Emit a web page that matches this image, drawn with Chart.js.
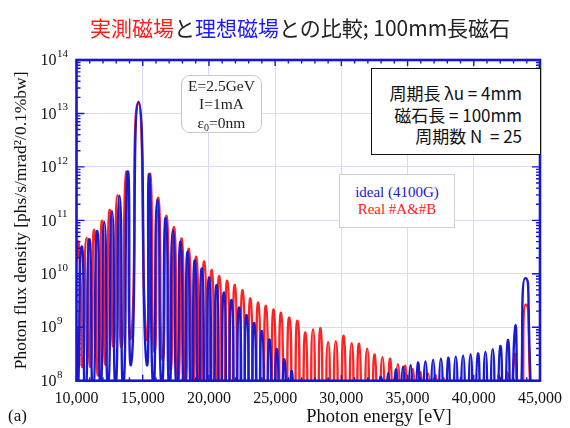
<!DOCTYPE html>
<html lang="ja">
<head>
<meta charset="UTF-8">
<title>実測磁場と理想磁場との比較</title>
<style>
  body { margin: 0; background: #fff; }
  #wrap { position: relative; width: 570px; height: 428px; overflow: hidden; }
  #chart { position: absolute; left: 0; top: 0; }
  .ov { position: absolute; white-space: nowrap; }
  #title { left: 0; top: 13px; width: 600px; text-align: center; font: 21px/28px "Noto Sans CJK JP", sans-serif; color: #222; }
  .serif { font-family: "Liberation Serif", "Times New Roman", serif; }
  #beam { left: 181px; top: 75px; width: 81px; height: 58px; border: 1px solid #c8c8c8; border-radius: 9px; background: #fff;
          text-align: center; font-size: 15.5px; line-height: 18.3px; box-sizing: border-box; padding-top: 1px; color: #222; }
  #beam sub { font-size: 10px; vertical-align: -3px; line-height: 0; }
  #und { left: 371px; top: 68px; width: 170px; height: 87px; border: 1.5px solid #111; background: #fff; box-sizing: border-box;
         text-align: right; padding: 13px 18px 0 0; font: 17px/21.7px "Noto Sans CJK JP", sans-serif; color: #111; }
  #leg { left: 339px; top: 174px; width: 116px; height: 54px; border: 1px solid #cfcfcf; background: #fff; box-sizing: border-box;
         text-align: center; padding-top: 9px; font-size: 15px; line-height: 17px; }
  #xtitle { left: 279px; top: 405px; width: 200px; text-align: center; font-size: 18.5px; line-height: 22px; color: #111; }
  #panel { left: 8px; top: 406px; font-size: 17px; line-height: 20px; color: #111; }
</style>
</head>
<body>
<div id="wrap">
  <canvas id="chart" width="570" height="428"></canvas>
  <div id="title" class="ov"><span style="color:#ff1a1a">実測磁場</span>と<span style="color:#1a1aff">理想磁場</span>との比較; 100mm長磁石</div>
  <div id="beam" class="ov serif">E=2.5GeV<br>I=1mA<br>ε<sub>0</sub>=0nm</div>
  <div id="und" class="ov">周期長 λu = 4mm<br>磁石長 = 100mm<br>周期数 N&nbsp; = 25</div>
  <div id="leg" class="ov serif"><span style="color:#2020c8">ideal (4100G)</span><br><span style="color:#ff2020">Real #A&amp;#B</span></div>
  <div id="xtitle" class="ov serif">Photon energy [eV]</div>
  <div id="panel" class="ov serif">(a)</div>
</div>
<script src="https://cdn.jsdelivr.net/npm/chart.js"></script>
<script>
// photon energy [eV] and log10(flux), peaks and minima in turn
const blueE = [10000, 10080, 10390, 10680, 10960, 11260, 11550, 11830, 12100, 12390, 12680, 12960, 13250, 13540, 13870, 14140,
  14690, 15290, 15490, 15800, 16110, 16430, 16740, 17010, 17280, 17570, 17860, 18130, 18400, 18670, 18940, 19200,
  19470, 19750, 20020, 20300, 20590, 20860, 21140, 21420, 21710, 22000, 22290, 22570, 22850, 23140, 23420, 23710,
  24000, 24290, 24580, 24850, 25130, 25410, 25700, 25980, 26260, 26540, 26820, 27100, 32400, 32960, 33250, 33540,
  33820, 34110, 34380, 34660, 34950, 35230, 35500, 35780, 36060, 36350, 36640, 36930, 37220, 37520, 37800, 38070,
  38350, 38640, 38910, 39190, 39480, 39760, 40030, 40310, 40600, 40880, 41150, 41430, 41710, 42000, 42290, 42570,
  42850, 43120, 43430, 43880, 44380, 44700, 45000];
const blueExp = [9.0, 7.6, 10.51, 7.7, 10.65, 7.8, 10.80, 7.9, 10.97, 7.9, 11.17, 7.9, 11.46, 7.9, 11.91, 8.33,
  13.22, 8.33, 11.86, 7.9, 11.38, 7.9, 11.04, 7.8, 10.82, 7.8, 10.60, 7.7, 10.41, 7.6, 10.25, 7.5,
  10.10, 7.4, 9.93, 7.3, 9.79, 7.2, 9.65, 7.1, 9.51, 7.0, 9.37, 6.8, 9.23, 6.7, 9.08, 6.5,
  8.93, 6.4, 8.77, 6.2, 8.59, 6.0, 8.40, 5.8, 8.18, 5.6, 7.9, 5.5, 5.5, 8.07, 5.6, 8.14,
  5.6, 8.21, 5.7, 8.26, 5.7, 8.29, 5.7, 8.34, 5.8, 8.36, 5.8, 8.39, 5.8, 8.41, 5.8, 8.43,
  5.9, 8.45, 5.9, 8.47, 5.9, 8.49, 5.9, 8.51, 6.0, 8.54, 6.0, 8.59, 6.0, 8.65, 6.1, 8.76,
  6.2, 8.99, 7.4, 9.92, 7.4, 5.5, 5.5];

const redE = [10000, 10180, 10480, 10760, 11060, 11350, 11640, 11920, 12210, 12500, 12800, 13100, 13410, 13770, 14120, 14660,
  15300, 15560, 15870, 16180, 16490, 16800, 17090, 17370, 17660, 17950, 18220, 18490, 18770, 19050, 19350, 19650,
  19940, 20220, 20500, 20790, 21090, 21390, 21680, 21960, 22250, 22550, 22850, 23140, 23430, 23730, 24020, 24310,
  24600, 24890, 25170, 25450, 25760, 26070, 26380, 26690, 26990, 27290, 27580, 27860, 28150, 28430, 28720, 29000,
  29290, 29580, 29880, 30180, 30480, 30780, 31060, 31340, 31650, 31950, 32230, 32520, 32810, 33100, 33400, 33690,
  33980, 34270, 34550, 34830, 35120, 35400, 35690, 35980, 36270, 36560, 36850, 37130, 37420, 37700, 38000, 41500,
  41870, 42180, 42500, 42790, 43070, 43500, 43920, 44400, 44700, 45000];
const redExp = [10.25, 10.53, 8.26, 10.67, 8.26, 10.82, 8.1, 10.99, 8.3, 11.19, 8.64, 11.47, 8.64, 11.91, 8.82, 13.20,
  8.8, 11.87, 8.55, 11.42, 8.4, 11.08, 8.2, 10.87, 8.0, 10.66, 7.9, 10.47, 7.8, 10.32, 7.7, 10.23,
  7.6, 10.07, 7.5, 9.96, 7.4, 9.87, 7.3, 9.79, 7.2, 9.69, 7.1, 9.54, 7.0, 9.46, 6.9, 9.40,
  6.8, 9.33, 6.7, 9.27, 6.6, 9.18, 6.5, 9.12, 6.4, 8.90, 6.3, 8.96, 6.3, 8.98, 6.2, 8.72,
  6.2, 8.74, 6.2, 8.84, 6.1, 8.70, 6.1, 8.69, 6.0, 8.60, 6.0, 8.49, 5.9, 8.44, 5.9, 8.41,
  5.8, 8.31, 5.8, 8.28, 5.7, 8.22, 5.7, 8.16, 5.6, 8.13, 5.6, 8.10, 5.5, 8.05, 5.5, 5.5,
  8.10, 5.6, 8.15, 5.8, 8.46, 7.0, 9.42, 7.0, 5.5, 5.5];

const xTicks = [10000, 15000, 20000, 25000, 30000, 35000, 40000, 45000];
const yDecades = [8, 9, 10, 11, 12, 13, 14];

const axisBlue = '#1616d6';
const gridColor = '#dadaf6';
const serif = '"Liberation Serif", "Times New Roman", serif';

function toPoints(es, ps) {
    return es.map((e, i) => ({ x: e, y: Math.pow(10, ps[i]) }));
}
function isDecade(v) {
    const e = Math.log10(v);
    return Math.abs(e - Math.round(e)) < 1e-6;
}

// 内向きの目盛り、枠線、10のべき乗ラベル
const framePlugin = {
    id: 'frame',
    afterDatasetsDraw(chart) {
        const { ctx, chartArea: a, scales: { x, y } } = chart;
        ctx.save();
        ctx.strokeStyle = axisBlue;
        ctx.lineWidth = 1.4;
        ctx.beginPath();
        for (let v = xTicks[0]; v <= xTicks[xTicks.length - 1]; v += 1000) {
            const px = x.getPixelForValue(v);
            const len = xTicks.includes(v) ? 6 : 3.5;
            ctx.moveTo(px, a.bottom); ctx.lineTo(px, a.bottom - len);
            ctx.moveTo(px, a.top); ctx.lineTo(px, a.top + len);
        }
        yDecades.forEach(d => {
            for (let m = 1; m <= 9; m++) {
                const v = m * Math.pow(10, d);
                if (v > y.max) break;
                const py = y.getPixelForValue(v);
                const len = m === 1 ? 8 : 4;
                ctx.moveTo(a.left, py); ctx.lineTo(a.left + len, py);
                ctx.moveTo(a.right, py); ctx.lineTo(a.right - len, py);
            }
        });
        ctx.stroke();
        ctx.lineWidth = 2.6;
        ctx.strokeRect(a.left, a.top, a.right - a.left, a.bottom - a.top);

        ctx.fillStyle = '#111';
        ctx.textBaseline = 'middle';
        yDecades.forEach(d => {
            const py = y.getPixelForValue(Math.pow(10, d));
            ctx.font = '16px ' + serif;
            ctx.textAlign = 'right';
            ctx.fillText('10', a.left - 20, py + 1);
            ctx.font = '11px ' + serif;
            ctx.textAlign = 'left';
            ctx.fillText(String(d), a.left - 19.5, py - 6);
        });
        ctx.restore();
    }
};

new Chart(document.getElementById('chart'), {
    type: 'line',
    data: {
        datasets: [
            { label: 'ideal (4100G)', data: toPoints(blueE, blueExp), borderColor: '#1a1ad2', borderWidth: 2.4 },
            { label: 'Real #A&#B', data: toPoints(redE, redExp), borderColor: '#ff2222', borderWidth: 2.4 }
        ]
    },
    options: {
        responsive: false,
        animation: false,
        devicePixelRatio: 1,
        layout: { padding: { left: 0, right: 25, top: 60, bottom: 0 } },
        elements: {
            point: { radius: 0 },
            line: { tension: 0.9, capBezierPoints: false, borderJoinStyle: 'round' }
        },
        plugins: { legend: { display: false }, tooltip: { enabled: false } },
        scales: {
            x: {
                type: 'linear', min: 10000, max: 45000,
                afterFit: s => { s.height = 47.3; },
                border: { display: false },
                grid: { color: gridColor, drawTicks: false },
                ticks: {
                    stepSize: 5000, maxRotation: 0, padding: 8, color: '#111',
                    font: { family: serif, size: 16 },
                    callback: v => v.toLocaleString('en-US')
                }
            },
            y: {
                type: 'logarithmic', min: 1e8, max: 1e14,
                afterFit: s => { s.width = 76.5; },
                border: { display: false },
                grid: { color: c => (c.tick && isDecade(c.tick.value)) ? gridColor : 'rgba(0,0,0,0)', drawTicks: false },
                ticks: { display: false, autoSkip: false },
                title: {
                    display: true, text: 'Photon flux density [phs/s/mrad²/0.1%bw]', color: '#111',
                    font: { family: serif, size: 17.5 }, padding: { top: 11, bottom: 0 }
                }
            }
        }
    },
    plugins: [framePlugin]
});
</script>
</body>
</html>
